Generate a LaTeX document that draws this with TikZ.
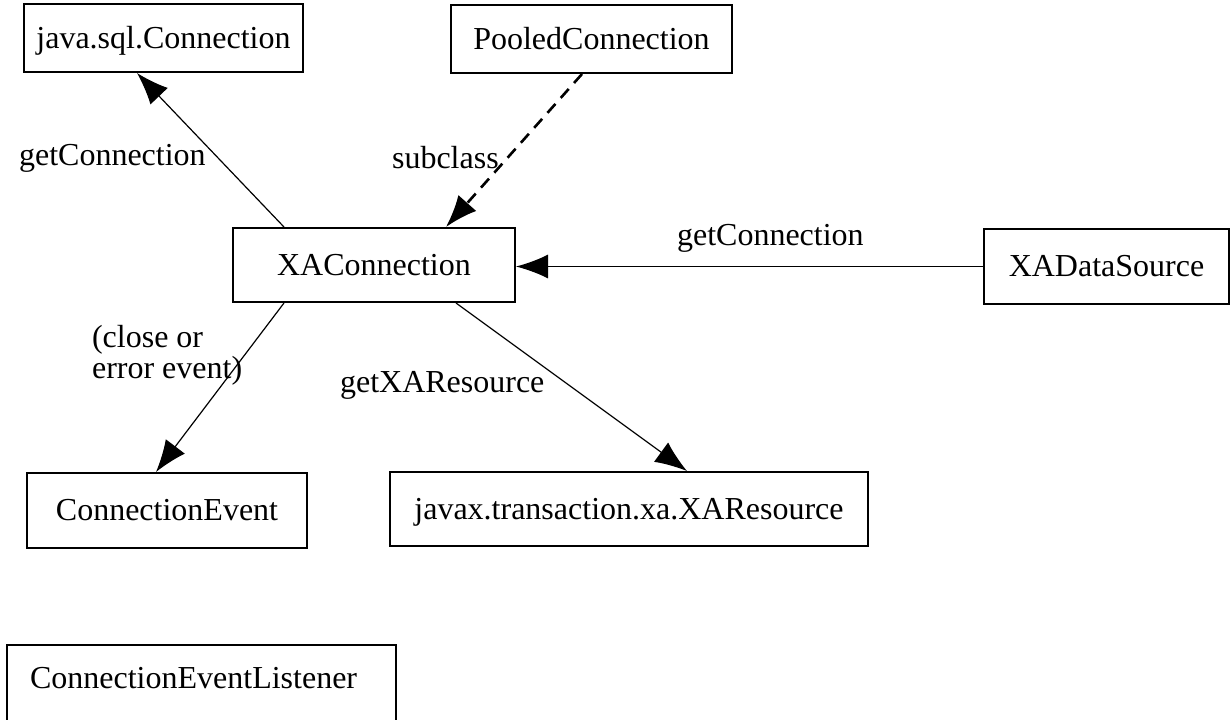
\documentclass[tikz,border=0pt]{standalone}
\usepackage{fontspec}
\setmainfont{Liberation Serif}
\usetikzlibrary{arrows.meta}
\def\myboxline{1pt}
\def\mylinkline{0.6pt}

\begin{document}
\begin{tikzpicture}[x=0.5pt, y=-0.5pt,
  font=\fontsize{16}{15.5}\selectfont,
  classbox/.style={draw, line width=\myboxline, inner sep=0pt, text height=11pt, text depth=1pt},
  callarrow/.style={-{Latex[length=16pt,width=12pt]}, line width=\mylinkline},
  subarrow/.style={-{Latex[length=16pt,width=12pt]}, line width=1.3pt, dash pattern=on 6pt off 4pt}]
\useasboundingbox (0,0) rectangle (1231,719);

% classes
\node (jsc) [classbox, minimum width=139.5pt, minimum height=34pt] at (163.5,38) {java.sql.Connection};
\node (pooled) [classbox, minimum width=140.5pt, minimum height=34pt] at (591.5,39) {PooledConnection};
\node (xac) [classbox, minimum width=141pt, minimum height=37pt] at (374,265) {XAConnection};
\node (xads) [classbox, minimum width=122.5pt, minimum height=37.5pt] at (1106.5,266.5) {XADataSource};
\node (cevt) [classbox, minimum width=140pt, minimum height=37.5pt] at (167,510.5) {ConnectionEvent};
\node (xares) [classbox, minimum width=239pt, minimum height=37pt] at (629,509) {javax.transaction.xa.XAResource};
\node (cel) [classbox, anchor=north west, minimum width=194.5pt, minimum height=60pt] at (6,644) {};
\node (celtext) [anchor=base west] at (23,688) {ConnectionEventListener};

% links
\draw [callarrow] ([xshift=26pt]xac.north west) -- ([xshift=57pt]jsc.south west); %xac to jsc
\draw [subarrow] ([xshift=66pt]pooled.south west) -- ([xshift=107pt]xac.north west); %pooled to xac
\draw [callarrow] (xads.west) -- (xads.west -| xac.east); %xads to xac
\draw [callarrow] ([xshift=26pt]xac.south west) -- ([xshift=65pt]cevt.north west); %xac to cevt
\draw [callarrow] ([xshift=112pt]xac.south west) -- ([xshift=149pt]xares.north west); %xac to xares

% labels
\node (getconn) [anchor=base west] at (12,165) {getConnection};
\node (subcl) [anchor=base west] at (385,168) {subclass};
\node (getconnds) [anchor=base west] at (670,245) {getConnection};
\node (closeerr) [anchor=base west, align=left] at (85,378) {(close or\\error event)};
\node (getxares) [anchor=base west] at (333,392) {getXAResource};
\end{tikzpicture}
\end{document}
